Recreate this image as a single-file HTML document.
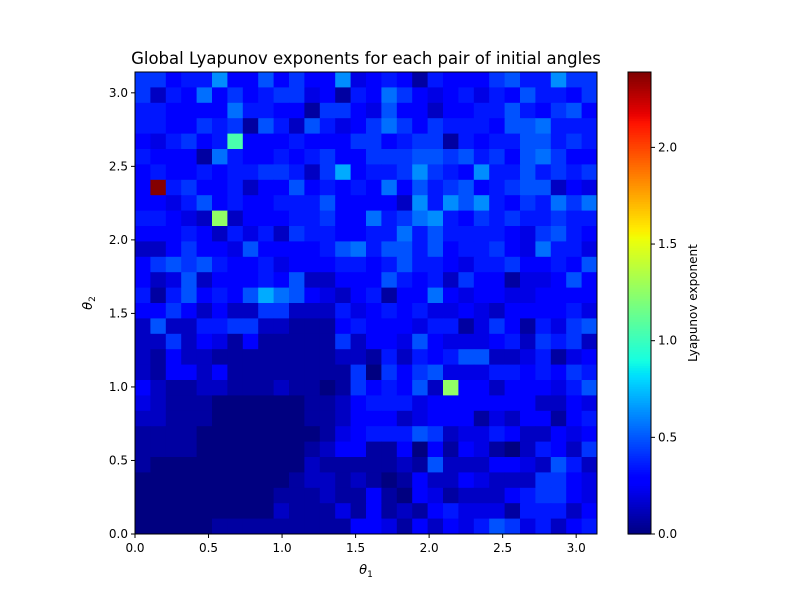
<!DOCTYPE html>
<html><head><meta charset="utf-8"><style>
body{margin:0;background:#fff;}
svg{display:block;font-family:"DejaVu Sans","Liberation Sans",sans-serif;}
</style></head><body>
<svg id="chart" width="800" height="600" viewBox="0 0 800 600" xmlns="http://www.w3.org/2000/svg">
<rect width="800" height="600" fill="#fff"/>
<text x="366" y="64" font-size="16.5" text-anchor="middle">Global Lyapunov exponents for each pair of initial angles</text>
<g id="cells"></g>
<rect x="135" y="72" width="462" height="462" fill="none" stroke="#000" stroke-width="1"/>
<g id="xaxis"></g>
<g id="yaxis"></g>
<text x="366" y="574" font-size="13" text-anchor="middle" font-style="italic">θ<tspan font-size="9" dy="3" font-style="normal">1</tspan></text>
<text transform="translate(92,303) rotate(-90)" font-size="13" text-anchor="middle" font-style="italic">θ<tspan font-size="9" dy="3" font-style="normal">2</tspan></text>
<g id="cbar"></g>
<text transform="translate(697,303) rotate(-90)" font-size="12" text-anchor="middle">Lyapunov exponent</text>
</svg>
<script>
// rows from top (theta2 = pi) to bottom (theta2 = 0); each char -> value = parseInt(c,36)*0.07
const rowsLeft = [
"664559447464493","625484645663415","554444855441664","554465617527534","435645f44454446",
"544418544545644","4544545566526a4","4y5644524474545","443574544555744","55432i244455644",
"444542535265544","224644374444578","467675445344455","423724445472244","51574547a874324",
"446424226622253","272255662211145","226243141111162","214221111111122","214424111111116",
"421122111211016","321110000001124","221110000001124","111100000000134","111100000001244",
"100000000002111","000000000012212","000000000111211","000000000211131","000001111111114"];
const rowsRight = [
"454154446755966","486434535475546","374424455754674","686465554778555","645661545577565",
"666776756478644","556965495575656","484756745677243","442959795465868","856895465655655",
"558575555436754","577574556438553","457554355644547","475452644133474","514484344334444",
"454533432444453","444355136415367","443743334526562","152545772235134","064673335545465",
"45472i442444357","555344444442243","442344413244145","555762335422434","114041431025426",
"112172224432752","101422432226643","410431222456643","412145333155524","431424357635245"];
const valueStep = 0.07;
const xTicks = [0.0,0.5,1.0,1.5,2.0,2.5,3.0];
const yTicks = [0.0,0.5,1.0,1.5,2.0,2.5,3.0];
const cbarTicks = [0.0,0.5,1.0,1.5,2.0];
const vmin = 0, vmax = 2.39;

const NS="http://www.w3.org/2000/svg";
const PX=135, PY=72, PW=462, PH=462, PMAX=Math.PI;
const xs=v=>PX+v/PMAX*PW, ys=v=>PY+PH-v/PMAX*PH;
function interp(pts,t){for(let i=1;i<pts.length;i++){if(t<=pts[i][0]){const a=pts[i-1],b=pts[i];return a[1]+(b[1]-a[1])*(t-a[0])/(b[0]-a[0]);}}return pts[pts.length-1][1];}
function jet(v){let t=Math.max(0,Math.min(1,(v-vmin)/(vmax-vmin)));
 const r=interp([[0,0],[0.35,0],[0.66,1],[0.89,1],[1,0.5]],t);
 const g=interp([[0,0],[0.125,0],[0.375,1],[0.64,1],[0.91,0],[1,0]],t);
 const b=interp([[0,0.5],[0.11,1],[0.34,1],[0.65,0],[1,0]],t);
 return `rgb(${Math.round(r*255)},${Math.round(g*255)},${Math.round(b*255)})`;}
function mk(tag,attrs,parent){const e=document.createElementNS(NS,tag);for(const k in attrs)e.setAttribute(k,attrs[k]);parent.appendChild(e);return e;}

const grid=rowsLeft.map((r,i)=>(r+rowsRight[i]).split('').map(c=>parseInt(c,36)*valueStep));
const nR=grid.length, nC=grid[0].length, cw=PMAX/nC, ch=PMAX/nR;
const cells=document.getElementById('cells');
grid.forEach((row,ri)=>{row.forEach((v,ci)=>{
 const y0=PMAX-(ri+1)*ch, x0=ci*cw;
 const r=mk('rect',{x:xs(x0),y:ys(y0+ch),width:xs(x0+cw)-xs(x0)+0.5,height:ys(y0)-ys(y0+ch)+0.5,fill:jet(v)},cells);
 
 
});});

const xa=document.getElementById('xaxis');
xTicks.forEach(t=>{const x=xs(t);
 mk('line',{x1:x,x2:x,y1:534,y2:538,stroke:'#000'},xa);
 const tx=mk('text',{x:x,y:552,'font-size':12,'text-anchor':'middle'},xa);tx.textContent=t.toFixed(1);
 
 });
const ya=document.getElementById('yaxis');
yTicks.forEach(t=>{const y=ys(t);
 mk('line',{x1:131,x2:135,y1:y,y2:y,stroke:'#000'},ya);
 const tx=mk('text',{x:128,y:y+4,'font-size':12,'text-anchor':'end'},ya);tx.textContent=t.toFixed(1);
 
 });

const cb=document.getElementById('cbar');
const CX=628, CW=23, CT=72, CB=534, N=200;
for(let i=0;i<N;i++){const v=vmin+(i+0.5)/N*(vmax-vmin);
 const y=CB-(i+1)/N*(CB-CT);
 mk('rect',{x:CX,y:y,width:CW,height:(CB-CT)/N+0.6,fill:jet(v)},cb);}
mk('rect',{x:CX,y:CT,width:CW,height:CB-CT,fill:'none',stroke:'#000'},cb);
cbarTicks.forEach(t=>{const y=CB-(t-vmin)/(vmax-vmin)*(CB-CT);
 mk('line',{x1:CX+CW,x2:CX+CW+4,y1:y,y2:y,stroke:'#000'},cb);
 const tx=mk('text',{x:CX+CW+7,y:y+4,'font-size':12},cb);tx.textContent=t.toFixed(1);
 
 });
</script>
</body></html>
